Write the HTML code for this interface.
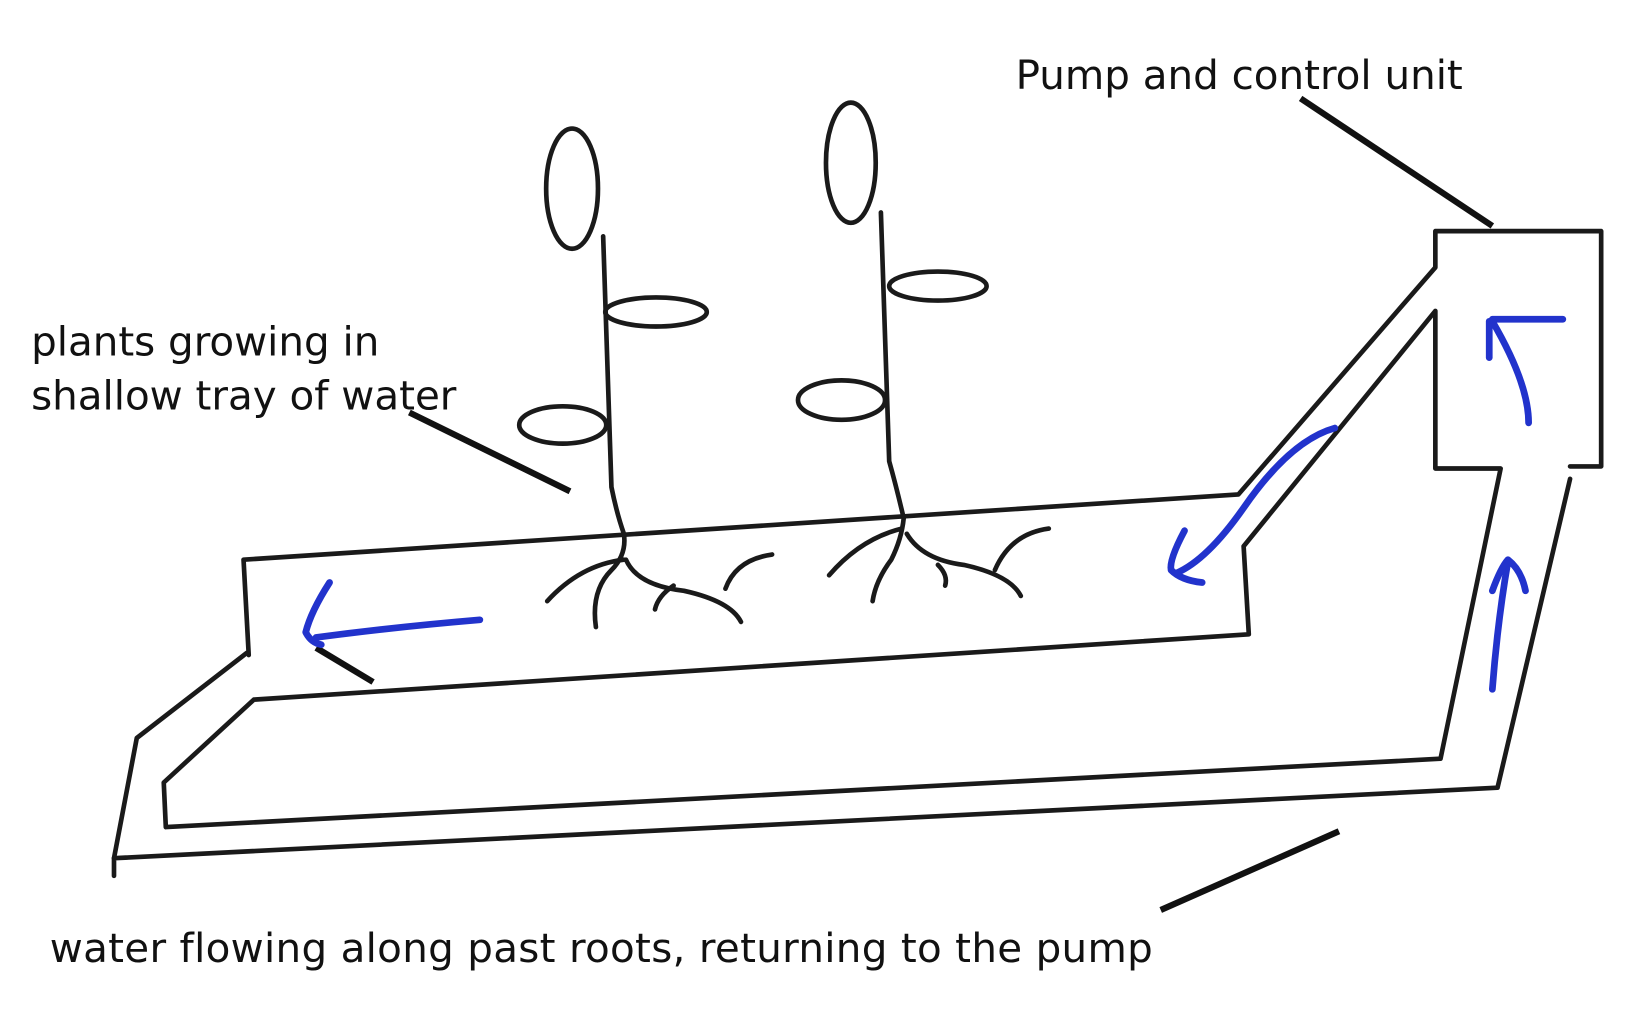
<!DOCTYPE html>
<html><head><style>html,body{margin:0;padding:0;background:#fff}svg{display:block}</style></head><body>
<svg width="1625" height="1023" viewBox="0 0 1568 987" preserveAspectRatio="none" xmlns="http://www.w3.org/2000/svg">
<rect width="1568" height="987" fill="#fff"/>
<g fill="none" stroke="#1a1a1a" stroke-width="4.5" stroke-linecap="round" stroke-linejoin="round">
<polyline points="240,632 235,540 1195,477 1385,258 1385,223 1545,223 1545,450 1515,450"/>
<polyline points="1385,300 1200,527 1205,612 245,675 158,755 160,798 1390,732 1448,452 1385,452 1385,300"/>
<polyline points="1515,462 1445,760 110,828 110,845"/>
<polyline points="110,828 132,712 238,630"/>
<ellipse cx="552" cy="182" rx="25" ry="58"/>
<ellipse cx="633" cy="301" rx="49" ry="14"/>
<ellipse cx="543" cy="410" rx="42" ry="18"/>
<path d="M582,228 L590,470 Q595,495 602,515 Q605,535 590,550 Q570,570 575,605"/>
<path d="M602,540 Q560,545 528,580"/>
<path d="M604,540 Q615,565 660,570 Q705,580 715,600"/>
<path d="M650,565 Q635,575 632,588"/>
<path d="M700,568 Q710,540 745,535"/>
<ellipse cx="821" cy="157" rx="24" ry="58"/>
<ellipse cx="905" cy="276" rx="47" ry="14"/>
<ellipse cx="812" cy="386" rx="42" ry="19"/>
<path d="M850,205 L858,445 Q865,470 872,500 Q870,520 860,540 Q845,560 842,580"/>
<path d="M870,510 Q830,520 800,555"/>
<path d="M875,515 Q890,540 930,545 Q975,555 985,575"/>
<path d="M905,545 Q915,555 912,565"/>
<path d="M960,550 Q975,515 1012,510"/>
</g>
<g stroke="#111" stroke-width="6" stroke-linecap="butt">
<line x1="1255" y1="95" x2="1440" y2="218"/>
<line x1="395" y1="398" x2="550" y2="474"/>
<line x1="1120" y1="878" x2="1292" y2="802"/>
<line x1="305" y1="625" x2="360" y2="658"/>
</g>
<g fill="none" stroke="#2233cc" stroke-width="6.5" stroke-linecap="round" stroke-linejoin="round">
<path d="M463,598 Q380,605 305,615"/>
<path d="M318,562 Q300,590 295,610 Q300,620 310,622"/>
<path d="M1288,413 Q1245,425 1200,490 Q1165,540 1135,553"/>
<path d="M1143,512 Q1128,540 1130,550 Q1140,560 1160,562"/>
<path d="M1475,408 Q1475,370 1440,310"/>
<path d="M1440,308 L1508,308"/>
<path d="M1437,310 L1437,345"/>
<path d="M1440,665 Q1445,600 1455,542"/>
<path d="M1440,570 Q1448,548 1455,540 Q1468,550 1472,570"/>
</g>
<g font-family="'DejaVu Sans', 'Liberation Sans', sans-serif" font-size="39" fill="#111">
<text x="980" y="86">Pump and control unit</text>
<text x="30" y="343">plants growing in</text>
<text x="30" y="395">shallow tray of water</text>
<text x="48" y="928" letter-spacing="0.3">water flowing along past roots, returning to the pump</text>
</g>
</svg>
</body></html>
